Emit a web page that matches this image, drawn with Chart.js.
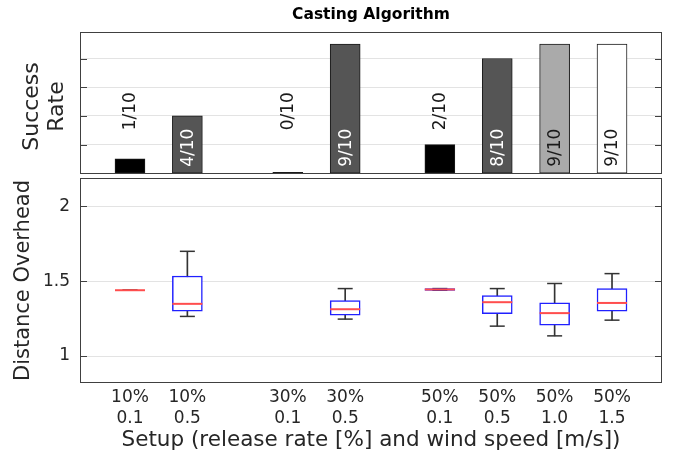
<!DOCTYPE html>
<html>
<head>
<meta charset="utf-8">
<script src="https://cdn.jsdelivr.net/npm/chart.js@4.4.1/dist/chart.umd.min.js"></script>
<style>
  html, body { margin: 0; padding: 0; background: #fff; }
  #wrap { position: relative; width: 673px; height: 459px; }
  #rateChart { position: absolute; left: 0; top: 0; }
  #overheadChart { position: absolute; left: 0; top: 176px; }
</style>
</head>
<body>
<div id="wrap">
  <canvas id="rateChart" width="673" height="177"></canvas>
  <canvas id="overheadChart" width="673" height="283"></canvas>
</div>
<script>
// setups: release rate + wind speed, and the slot of each on the shared x axis
const releaseRates = ["10%", "10%", "30%", "30%", "50%", "50%", "50%", "50%"];
const windSpeeds = ["0.1", "0.5", "0.1", "0.5", "0.1", "0.5", "1.0", "1.5"];
const slots = [1, 2, 3.75, 4.75, 6.4, 7.4, 8.4, 9.4];

// successful runs out of 10
const runs = 10;
const successes = [1, 4, 0, 9, 2, 8, 9, 9];

// distance overhead per setup (null = no successful run)
const whiskerLow  = [1.44, 1.265, null, 1.247, 1.44, 1.20, 1.135, 1.24];
const quartile1   = [1.44, 1.30, null, 1.273, 1.438, 1.284, 1.207, 1.30];
const medians     = [1.44, 1.349, null, 1.313, 1.445, 1.36, 1.287, 1.355];
const quartile3   = [1.44, 1.535, null, 1.371, 1.451, 1.405, 1.355, 1.451];
const whiskerHigh = [1.44, 1.70, null, 1.451, 1.451, 1.451, 1.485, 1.551];

const rateTicks = [0.2, 0.4, 0.6, 0.8];
const overheadTicks = [1, 1.5, 2];

// bar shade by wind speed
const windFill = { "0.1": "#000000", "0.5": "#555555", "1.0": "#aaaaaa", "1.5": "#ffffff" };

const xMin = 0.129, xMax = 10.271;
const FONT = "'DejaVu Sans', sans-serif";
Chart.defaults.font.family = FONT;
Chart.defaults.color = "#262626";

// box around the plot area + matlab style inward ticks
const frame = {
  id: "frame",
  afterDraw(chart) {
    const { ctx, chartArea: a, scales: { y } } = chart;
    ctx.save();
    ctx.strokeStyle = "#404040";
    ctx.lineWidth = 1;
    ctx.strokeRect(a.left + 0.5, a.top + 0.5, a.width - 1, a.height - 1);
    y.ticks.forEach(t => {
      const py = Math.round(y.getPixelForValue(t.value)) + 0.5;
      ctx.beginPath();
      ctx.moveTo(a.left, py); ctx.lineTo(a.left + 7, py);
      ctx.moveTo(a.right - 7, py); ctx.lineTo(a.right, py);
      ctx.stroke();
    });
    ctx.restore();
  }
};

// "k/10" labels, rotated, inside tall bars or floating above short ones
const rateLabels = {
  id: "rateLabels",
  afterDatasetsDraw(chart) {
    const { ctx, scales: { y } } = chart;
    const bars = chart.getDatasetMeta(0).data;
    ctx.save();
    ctx.font = "17px " + FONT;
    ctx.textAlign = "left";
    ctx.textBaseline = "middle";
    bars.forEach((bar, i) => {
      const rate = successes[i] / runs;
      const inside = rate >= 0.4;
      const dark = windFill[windSpeeds[i]] === "#555555";
      ctx.fillStyle = inside && dark ? "#ffffff" : "#1a1a1a";
      ctx.save();
      ctx.translate(bar.x + 1, y.getPixelForValue(inside ? 0.045 : 0.3));
      ctx.rotate(-Math.PI / 2);
      ctx.fillText(successes[i] + "/" + runs, 0, 0);
      ctx.restore();
    });
    ctx.restore();
  }
};

// fixed axis width, no extra room for tick labels at the ends
const fitY = s => { s.width = 80; s.paddingTop = 0; s.paddingBottom = 0; };

new Chart(document.getElementById("rateChart"), {
  type: "bar",
  data: {
    datasets: [{
      data: slots.map((x, i) => ({ x: x, y: successes[i] / runs })),
      backgroundColor: windSpeeds.map(w => windFill[w]),
      borderColor: "#1a1a1a",
      borderWidth: 1,
      borderSkipped: false,
      barThickness: 30,
      minBarLength: 2
    }]
  },
  options: {
    responsive: false,
    animation: false,
    layout: { autoPadding: false, padding: { left: 0, right: 11, top: 0, bottom: 3 } },
    plugins: {
      legend: { display: false },
      tooltip: { enabled: false },
      title: {
        display: true, text: "Casting Algorithm", fullSize: false, color: "#000",
        font: { size: 15.5, weight: "bold" }, padding: { top: 6, bottom: 7.4 }
      }
    },
    scales: {
      x: { type: "linear", offset: false, min: xMin, max: xMax, display: false },
      y: {
        min: -0.005, max: 0.985,
        afterBuildTicks: s => { s.ticks = rateTicks.map(v => ({ value: v })); },
        afterFit: fitY,
        ticks: { display: false },
        grid: { color: "#e3e3e3", drawTicks: false },
        border: { display: false },
        title: {
          display: true, text: ["Success ", "Rate "],
          font: { size: 22, lineHeight: 1.14 }, padding: { top: 20, bottom: 0 }
        }
      }
    }
  },
  plugins: [frame, rateLabels]
});

// box plot built from floating bars (box, whisker) and line points (caps, median)
const have = slots.map((x, i) => i).filter(i => medians[i] !== null);

new Chart(document.getElementById("overheadChart"), {
  type: "bar",
  data: {
    datasets: [
      {
        type: "bar", order: 4, grouped: false, barThickness: 1,
        data: have.map(i => ({ x: slots[i], y: [whiskerLow[i], whiskerHigh[i]] })),
        backgroundColor: "#333333"
      },
      {
        type: "scatter", order: 3,
        data: have.flatMap(i => [{ x: slots[i], y: whiskerLow[i] }, { x: slots[i], y: whiskerHigh[i] }]),
        pointStyle: "line", pointRadius: 7.5, pointHoverRadius: 7.5,
        pointBorderColor: "#333333", pointBorderWidth: 1.5
      },
      {
        type: "bar", order: 2, grouped: false, barThickness: 30,
        data: have.map(i => ({ x: slots[i], y: [quartile1[i], quartile3[i]] })),
        backgroundColor: "#ffffff", borderColor: "#2020ff", borderWidth: 1.5, borderSkipped: false
      },
      {
        type: "scatter", order: 1,
        data: have.map(i => ({ x: slots[i], y: medians[i] })),
        pointStyle: "line", pointRadius: 15, pointHoverRadius: 15,
        pointBorderColor: "#ff4d4d", pointBorderWidth: 2
      }
    ]
  },
  options: {
    responsive: false,
    animation: false,
    layout: { autoPadding: false, padding: { left: 0, right: 11, top: 2, bottom: 0 } },
    plugins: { legend: { display: false }, tooltip: { enabled: false } },
    scales: {
      x: {
        type: "linear", offset: false, min: xMin, max: xMax,
        afterBuildTicks: s => { s.ticks = slots.map(v => ({ value: v })); },
        afterFit: s => { s.height = 76; s.paddingLeft = 0; s.paddingRight = 0; },
        grid: { display: false, drawTicks: false, offset: false },
        border: { display: false },
        ticks: {
          autoSkip: false, maxRotation: 0, padding: 3.5,
          font: { size: 17, lineHeight: 1.27 },
          callback: (v, i) => [releaseRates[i], windSpeeds[i]]
        },
        title: {
          display: true, text: "Setup (release rate [%] and wind speed [m/s])",
          font: { size: 21.5 }, padding: { top: 0, bottom: 6 }
        }
      },
      y: {
        min: 0.82, max: 2.19,
        afterBuildTicks: s => { s.ticks = overheadTicks.map(v => ({ value: v })); },
        afterFit: fitY,
        grid: { color: "#e3e3e3", drawTicks: false },
        border: { display: false },
        ticks: { font: { size: 17 }, padding: 10, callback: v => String(v) },
        title: {
          display: true, text: "Distance Overhead",
          font: { size: 21 }, padding: { top: 11, bottom: 0 }
        }
      }
    }
  },
  plugins: [frame]
});
</script>
</body>
</html>
